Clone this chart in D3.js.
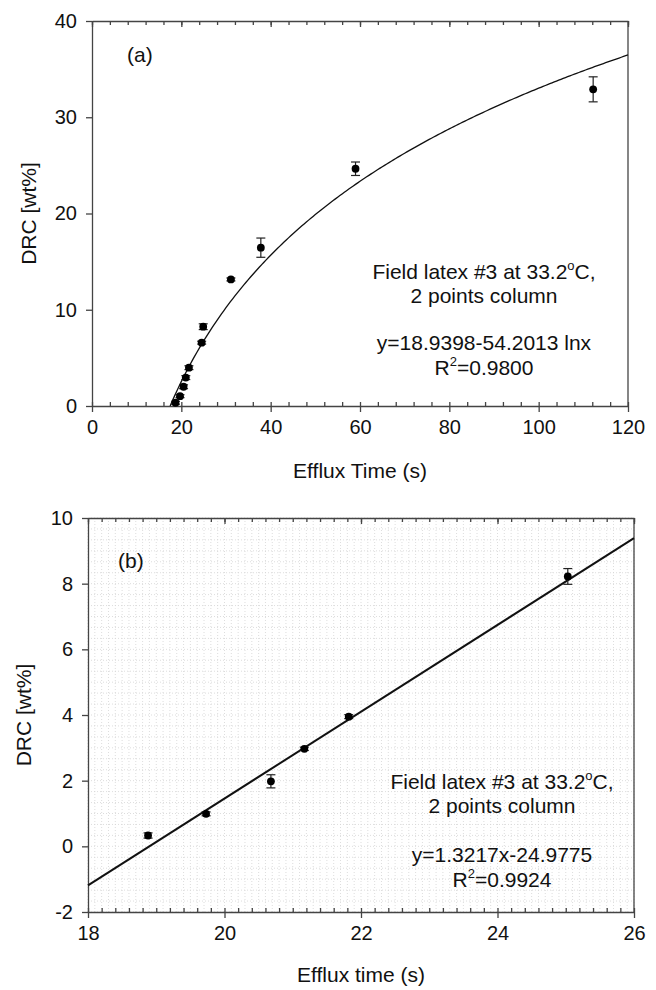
<!DOCTYPE html>
<html>
<head>
<meta charset="utf-8">
<script src="https://cdn.jsdelivr.net/npm/d3@7"></script>
<style>
  body { margin: 0; background: #fff; }
  svg text { font-family: "Liberation Sans", Arial, sans-serif; fill: #111; }
</style>
</head>
<body>
<script>
// panel (a): all points, log fit
const timeA = [18.7, 19.7, 20.5, 21.0, 21.7, 24.55, 24.9, 31.1, 37.8, 59.0, 112.2];
const drcA  = [0.34, 1.02, 2.0, 2.95, 3.98, 6.58, 8.24, 13.15, 16.45, 24.65, 32.9];
const errA  = [0.15, 0.15, 0.2, 0.2, 0.2, 0.15, 0.3, 0.15, 1.0, 0.7, 1.3];
const fitA  = {a: 18.9398, b: -54.2013};   // y = a*ln(x) + b as drawn

// panel (b): low range, linear fit
const timeB = [18.88, 19.73, 20.68, 21.17, 21.82, 25.03];
const drcB  = [0.33, 0.99, 1.98, 2.97, 3.95, 8.22];
const errB  = [0.08, 0.06, 0.2, 0.05, 0.06, 0.24];
const fitB  = {slope: 1.3217, icept: -24.9775};

const xTicksA = [0, 20, 40, 60, 80, 100, 120];
const yTicksA = [0, 10, 20, 30, 40];
const xTicksB = [18, 20, 22, 24, 26];
const yTicksB = [-2, 0, 2, 4, 6, 8, 10];

const svg = d3.select("body").append("svg")
  .attr("width", 656).attr("height", 990);

const axisCol = "#444";
const fmt = d => String(d);   // plain hyphen for negatives

function panel(opt) {
  const g = svg.append("g").attr("transform", `translate(${opt.left},${opt.top})`);
  const w = opt.width, h = opt.height;
  const x = d3.scaleLinear().domain(opt.xDom).range([0, w]);
  const y = d3.scaleLinear().domain(opt.yDom).range([h, 0]);

  // dotted grid (panel b only)
  if (opt.grid) {
    const gx = d3.range(opt.xDom[0], opt.xDom[1] + 1e-9, 0.1);
    const gy = d3.range(opt.yDom[0], opt.yDom[1] + 1e-9, 1 / 3);
    const grid = g.append("g").attr("stroke", "#d4d4d4").attr("stroke-width", 0.8)
      .attr("stroke-dasharray", "1,2");
    grid.selectAll(".gx").data(gx).join("line").attr("class", "gx")
      .attr("x1", d => x(d)).attr("x2", d => x(d)).attr("y1", 0).attr("y2", h);
    grid.selectAll(".gy").data(gy).join("line").attr("class", "gy")
      .attr("y1", d => y(d)).attr("y2", d => y(d)).attr("x1", 0).attr("x2", w);
  }

  const minorX = d3.range(opt.xDom[0], opt.xDom[1] + 1e-9, opt.xMinor);
  const axes = g.append("g");

  // bottom: minor ticks inside, major ticks outside with labels
  axes.append("g").attr("transform", `translate(0,${h})`)
    .call(d3.axisTop(x).tickValues(minorX).tickSize(4).tickFormat(""))
    .call(a => a.select(".domain").remove());
  axes.append("g").attr("transform", `translate(0,${h})`)
    .call(d3.axisBottom(x).tickValues(opt.xTicks).tickFormat(fmt)
      .tickSize(6).tickPadding(8).tickSizeOuter(0));
  // top: ticks pointing in
  axes.append("g")
    .call(d3.axisBottom(x).tickValues(minorX).tickSize(4).tickFormat(""))
    .call(a => a.select(".domain").remove());
  axes.append("g")
    .call(d3.axisBottom(x).tickValues(opt.xTicks).tickSize(6).tickFormat("").tickSizeOuter(0));
  // left with labels, right plain line
  axes.append("g")
    .call(d3.axisLeft(y).tickValues(opt.yTicks).tickFormat(fmt)
      .tickSize(6).tickPadding(9).tickSizeOuter(0));
  axes.append("line").attr("x1", w).attr("x2", w).attr("y1", 0).attr("y2", h);

  axes.selectAll(".domain, .tick line, line").attr("stroke", axisCol).attr("stroke-width", 1.3);
  axes.selectAll(".tick text").attr("font-size", 20).attr("fill", "#111")
    .attr("font-family", "Liberation Sans, Arial, sans-serif");

  // fit line
  g.append("path").datum(opt.fit)
    .attr("fill", "none").attr("stroke", "#111").attr("stroke-width", opt.fitWidth)
    .attr("d", d3.line().x(d => x(d[0])).y(d => y(d[1])));

  // error bars and points
  const pts = opt.xs.map((t, i) => ({t, v: opt.ys[i], e: opt.es[i]}));
  const eb = g.append("g").attr("stroke", "#222").attr("stroke-width", 1.2);
  pts.forEach(p => {
    eb.append("line").attr("x1", x(p.t)).attr("x2", x(p.t))
      .attr("y1", y(p.v - p.e)).attr("y2", y(p.v + p.e));
    [p.v - p.e, p.v + p.e].forEach(v => {
      eb.append("line").attr("x1", x(p.t) - 4.5).attr("x2", x(p.t) + 4.5)
        .attr("y1", y(v)).attr("y2", y(v));
    });
  });
  g.append("g").selectAll("circle").data(pts).join("circle")
    .attr("cx", d => x(d.t)).attr("cy", d => y(d.v)).attr("r", 3.9).attr("fill", "#000");

  // titles
  g.append("text").attr("x", w / 2).attr("y", h + opt.xTitleDy)
    .attr("text-anchor", "middle").attr("font-size", 21).text(opt.xTitle);
  g.append("text").attr("transform", `translate(${opt.yTitleX},${h / 2}) rotate(-90)`)
    .attr("text-anchor", "middle").attr("font-size", 21).text("DRC [wt%]");
  g.append("text").attr("x", opt.tag[0]).attr("y", opt.tag[1])
    .attr("font-size", 21).text(opt.tagText);

  // annotation block
  const ann = g.append("g").attr("text-anchor", "middle").attr("font-size", 21);
  const cx = opt.annX;
  const l1 = ann.append("text").attr("x", cx).attr("y", opt.annY[0]);
  l1.append("tspan").text("Field latex #3 at 33.2");
  l1.append("tspan").attr("font-size", 13).attr("dy", -9).text("o");
  l1.append("tspan").attr("dy", 9).text("C,");
  ann.append("text").attr("x", cx).attr("y", opt.annY[1]).text("2 points column");
  ann.append("text").attr("x", cx).attr("y", opt.annY[2]).text(opt.eq);
  const l4 = ann.append("text").attr("x", cx).attr("y", opt.annY[3]);
  l4.append("tspan").text("R");
  l4.append("tspan").attr("font-size", 13).attr("dy", -9).text("2");
  l4.append("tspan").attr("dy", 9).text("=" + opt.r2);
}

// fitted curves evaluated from the printed fit coefficients
const x0A = Math.exp(-fitA.b / fitA.a);
const curveA = d3.range(x0A, 120.0001, 0.5).concat([120]).map(t => [t, fitA.a * Math.log(t) + fitA.b]);
const lineB = [18, 26].map(t => [t, fitB.slope * t + fitB.icept]);

panel({
  left: 92, top: 21, width: 536, height: 385,
  xDom: [0, 120], yDom: [0, 40], xTicks: xTicksA, yTicks: yTicksA, xMinor: 4,
  xs: timeA, ys: drcA, es: errA, fit: curveA, fitWidth: 1.3, grid: false,
  xTitle: "Efflux Time (s)", xTitleDy: 72, yTitleX: -56,
  tag: [35, 41], tagText: "(a)",
  annX: 392, annY: [258, 282, 329, 354],
  eq: "y=18.9398-54.2013 lnx", r2: "0.9800"
});

panel({
  left: 88, top: 518, width: 546, height: 394,
  xDom: [18, 26], yDom: [-2, 10], xTicks: xTicksB, yTicks: yTicksB, xMinor: 0.2,
  xs: timeB, ys: drcB, es: errB, fit: lineB, fitWidth: 2, grid: true,
  xTitle: "Efflux time (s)", xTitleDy: 70, yTitleX: -57,
  tag: [30, 50], tagText: "(b)",
  annX: 414, annY: [271, 295, 344, 369],
  eq: "y=1.3217x-24.9775", r2: "0.9924"
});
</script>
</body>
</html>
